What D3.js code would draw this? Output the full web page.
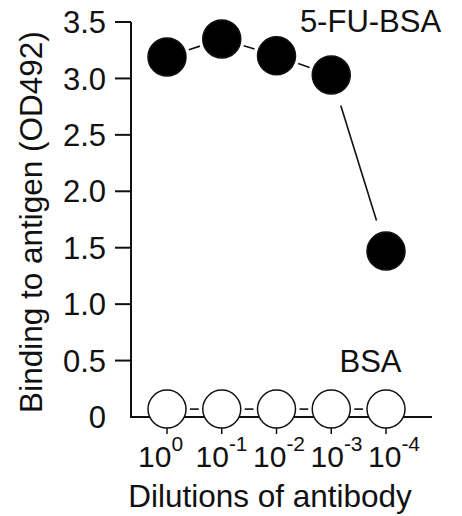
<!DOCTYPE html>
<html>
<head>
<meta charset="utf-8">
<script src="https://cdn.jsdelivr.net/npm/d3@7"></script>
<style>
html, body { margin: 0; padding: 0; background: #fff; }
svg { display: block; }
text { font-family: "Liberation Sans", Arial, Helvetica, sans-serif; fill: #111; }
</style>
</head>
<body>
<svg id="chart" width="462" height="516"></svg>
<script>
// ---- data ----
const dilutionExponents = [0, -1, -2, -3, -4];
const fuBsaValues = [3.19, 3.35, 3.20, 3.03, 1.47];
const bsaValues = [0.07, 0.07, 0.07, 0.07, 0.07];
const yTickValues = [0, 0.5, 1.0, 1.5, 2.0, 2.5, 3.0, 3.5];
const seriesLabels = ["5-FU-BSA", "BSA"];
const xAxisTitle = "Dilutions of antibody";
const yAxisTitle = "Binding to antigen (OD492)";

// ---- layout ----
const svg = d3.select("#chart");
const axisX0 = 131, axisX1 = 432, axisY0 = 417, axisYTop = 22;
const x = d3.scalePoint().domain(dilutionExponents).range([167, 386]);
const xLabel = d3.scalePoint().domain(dilutionExponents).range([140, 370]);
const y = d3.scaleLinear().domain([0, 3.5]).range([axisY0, axisYTop]);
const R = 19;
const ink = "#111";

// y axis
svg.append("line").attr("x1", axisX0).attr("x2", axisX0)
  .attr("y1", y(3.5)).attr("y2", axisY0)
  .attr("stroke", ink).attr("stroke-width", 2);
const yt = svg.append("g");
yt.selectAll("line").data(yTickValues.filter(d => d > 0)).join("line")
  .attr("x1", axisX0 - 16).attr("x2", axisX0)
  .attr("y1", d => y(d)).attr("y2", d => y(d))
  .attr("stroke", ink).attr("stroke-width", 2);
yt.selectAll("text").data(yTickValues).join("text")
  .attr("x", 106).attr("y", d => y(d)).attr("dy", "0.36em")
  .attr("text-anchor", "end").attr("font-size", 31)
  .text(d => d === 0 ? "0" : d3.format(".1f")(d));

// x axis
svg.append("line").attr("x1", axisX0 - 1).attr("x2", axisX1)
  .attr("y1", axisY0).attr("y2", axisY0)
  .attr("stroke", ink).attr("stroke-width", 2);
const xt = svg.append("g");
xt.selectAll("line").data(dilutionExponents).join("line")
  .attr("x1", d => x(d)).attr("x2", d => x(d))
  .attr("y1", axisY0).attr("y2", axisY0 + 17)
  .attr("stroke", ink).attr("stroke-width", 1.5);
const xl = xt.selectAll("text").data(dilutionExponents).join("text")
  .attr("x", d => xLabel(d) - 2).attr("y", 467)
  .attr("text-anchor", "start").attr("font-size", 30);
xl.append("tspan").text("10");
xl.append("tspan").attr("dy", -16).attr("font-size", 21).text(d => d === 0 ? "0" : "-" + Math.abs(d));

// axis titles
svg.append("text").attr("x", 270).attr("y", 507).attr("text-anchor", "middle")
  .attr("font-size", 31.5).text(xAxisTitle);
svg.append("text").attr("transform", "translate(42,222) rotate(-90)")
  .attr("text-anchor", "middle").attr("font-size", 31.5).text(yAxisTitle);

// connector segments with gaps around markers
function segments(vals) {
  const pts = dilutionExponents.map((e, i) => [x(e), y(vals[i])]);
  const segs = [];
  for (let i = 0; i < pts.length - 1; i++) {
    const [x1, y1] = pts[i], [x2, y2] = pts[i + 1];
    const dx = x2 - x1, dy = y2 - y1, len = Math.hypot(dx, dy);
    const gap = len > 100 ? 32 : 23;
    if (len > 2 * gap) {
      segs.push([x1 + dx * gap / len, y1 + dy * gap / len, x2 - dx * gap / len, y2 - dy * gap / len]);
    }
  }
  return segs;
}
function drawSeries(vals, fill) {
  const g = svg.append("g");
  g.selectAll("line").data(segments(vals)).join("line")
    .attr("x1", d => d[0]).attr("y1", d => d[1]).attr("x2", d => d[2]).attr("y2", d => d[3])
    .attr("stroke", ink).attr("stroke-width", 1.6);
  g.selectAll("circle").data(vals).join("circle")
    .attr("cx", (d, i) => x(dilutionExponents[i])).attr("cy", d => y(d)).attr("r", R)
    .attr("fill", fill).attr("stroke", ink).attr("stroke-width", 1.5);
}
drawSeries(bsaValues, "#fff");
drawSeries(fuBsaValues, "#000");

// series labels
svg.append("text").attr("x", 370.5).attr("y", 32).attr("text-anchor", "middle")
  .attr("font-size", 31).text(seriesLabels[0]);
svg.append("text").attr("x", 370.5).attr("y", 372).attr("text-anchor", "middle")
  .attr("font-size", 31).text(seriesLabels[1]);
</script>
</body>
</html>
